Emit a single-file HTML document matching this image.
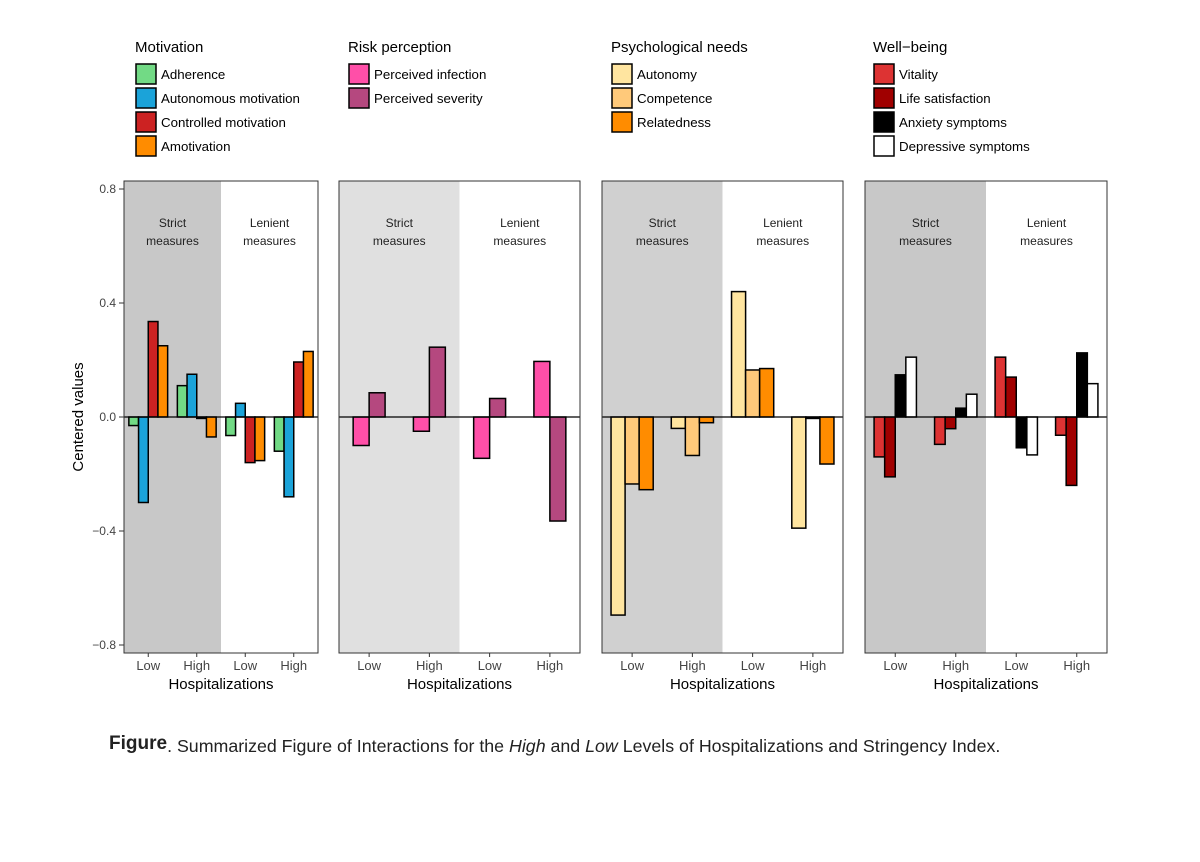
<!DOCTYPE html>
<html><head><meta charset="utf-8"><style>
body{margin:0;background:#fff;font-family:"Liberation Sans",Arial,sans-serif}
svg text{font-family:"Liberation Sans",Arial,sans-serif}
</style></head><body>
<svg id="c" width="1200" height="857"></svg>
<script>
const groups=["Low","High","Low","High"];
const motivationNames=["Adherence","Autonomous motivation","Controlled motivation","Amotivation"];
const motivationValues=[[-0.03,-0.30,0.335,0.25],[0.11,0.15,-0.005,-0.07],[-0.065,0.048,-0.16,-0.153],[-0.12,-0.28,0.193,0.23]];
const riskNames=["Perceived infection","Perceived severity"];
const riskValues=[[-0.10,0.085],[-0.05,0.245],[-0.145,0.065],[0.195,-0.365]];
const needsNames=["Autonomy","Competence","Relatedness"];
const needsValues=[[-0.695,-0.235,-0.255],[-0.04,-0.135,-0.02],[0.44,0.165,0.17],[-0.39,-0.005,-0.165]];
const wellNames=["Vitality","Life satisfaction","Anxiety symptoms","Depressive symptoms"];
const wellValues=[[-0.14,-0.21,0.148,0.21],[-0.096,-0.041,0.031,0.08],[0.21,0.14,-0.108,-0.133],[-0.064,-0.24,0.225,0.117]];
const yTicks=[0.8,0.4,0.0,-0.4,-0.8];
const yTickLabels=["0.8","0.4","0.0","\u22120.4","\u22120.8"];

const NS="http://www.w3.org/2000/svg",svg=document.getElementById('c');
function el(t,a,p){const e=document.createElementNS(NS,t);for(const k in a)e.setAttribute(k,a[k]);(p||svg).appendChild(e);return e;}
function txt(s,a,p){const e=el('text',a,p);e.textContent=s;return e;}
const y=v=>417-v*285;
const panels=[
 {x0:124,x1:318,shade:"#c8c8c8",names:motivationNames,vals:motivationValues,cols:["#72da85","#1ba3d9","#cc2222","#ff8c00"],frac:0.8,title:"Motivation",lx:135,key:"motivation"},
 {x0:339,x1:580,shade:"#e0e0e0",names:riskNames,vals:riskValues,cols:["#ff4fa8","#b5487f"],frac:0.53,title:"Risk perception",lx:348,key:"risk"},
 {x0:602,x1:843,shade:"#d0d0d0",names:needsNames,vals:needsValues,cols:["#ffe5a0","#ffc97a","#ff8c00"],frac:0.7,title:"Psychological needs",lx:611,key:"needs"},
 {x0:865,x1:1107,shade:"#c8c8c8",names:wellNames,vals:wellValues,cols:["#dd3333","#a00000","#000000","#ffffff"],frac:0.7,title:"Well\u2212being",lx:873,key:"wellbeing"}
];
yTicks.forEach((t,i)=>{
 const l=el('line',{x1:119,x2:124,y1:y(t),y2:y(t),stroke:"#333"});
 
 const tx=txt(yTickLabels[i],{x:116,y:y(t)+4,'text-anchor':'end','font-size':12,fill:'#444'});
 
});
const yt=txt("Centered values",{x:0,y:0,transform:"translate(83,417) rotate(-90)",'text-anchor':'middle','font-size':15,fill:'#000'});


panels.forEach(p=>{
 const g=el('g',{});
 const w=p.x1-p.x0,mid=(p.x0+p.x1)/2;
 el('rect',{x:p.x0,y:181,width:w/2,height:472,fill:p.shade},g);
 [["Strict",p.x0+w/4],["Lenient",p.x0+3*w/4]].forEach(([s,cx])=>{
  const a=txt(s,{x:cx,y:227,'text-anchor':'middle','font-size':12,fill:'#222'},g);
  
  txt("measures",{x:cx,y:245,'text-anchor':'middle','font-size':12,fill:'#222'},g);
 });
 const gw=w/4,n=p.names.length,bw=gw*p.frac/n;
 p.vals.forEach((gv,gi)=>{
  const cx=p.x0+(gi+0.5)*gw;
  gv.forEach((v,bi)=>{
   const bx=cx-gw*p.frac/2+bi*bw;
   const r=el('rect',{x:bx,y:Math.min(y(v),y(0)),width:bw,height:Math.abs(y(v)-y(0)),fill:p.cols[bi],stroke:'#000','stroke-width':1.5},g);
   
  });
  el('line',{x1:cx,x2:cx,y1:653,y2:657,stroke:'#333'},g);
  const xl=txt(groups[gi],{x:cx,y:670,'text-anchor':'middle','font-size':13,fill:'#444'},g);
  
 });
 el('line',{x1:p.x0,x2:p.x1,y1:y(0),y2:y(0),stroke:'#000','stroke-width':1.3},g);
 el('rect',{x:p.x0,y:181,width:w,height:472,fill:'none',stroke:'#333','stroke-width':1},g);
 const xt=txt("Hospitalizations",{x:mid,y:689,'text-anchor':'middle','font-size':15,fill:'#000'},g);
 
 const lg=el('g',{});
 txt(p.title,{x:p.lx,y:52,'font-size':15,fill:'#000'},lg);
 p.names.forEach((nm,i)=>{
  const e=el('g',{},lg);
  el('rect',{x:p.lx+1,y:64+i*24,width:20,height:20,fill:p.cols[i],stroke:'#000','stroke-width':1.5},e);
  txt(nm,{x:p.lx+26,y:79+i*24,'font-size':13.3,fill:'#000'},e);
 });
});
const cap=el('text',{x:109,y:752,'font-size':17.8,fill:'#222'});

cap.innerHTML='<tspan font-weight="bold" font-size="19" dy="-3">Figure</tspan><tspan dy="3">. Summarized Figure of Interactions for the </tspan><tspan font-style="italic">High</tspan><tspan> and </tspan><tspan font-style="italic">Low</tspan><tspan> Levels of Hospitalizations and Stringency Index.</tspan>';
</script>
</body></html>
